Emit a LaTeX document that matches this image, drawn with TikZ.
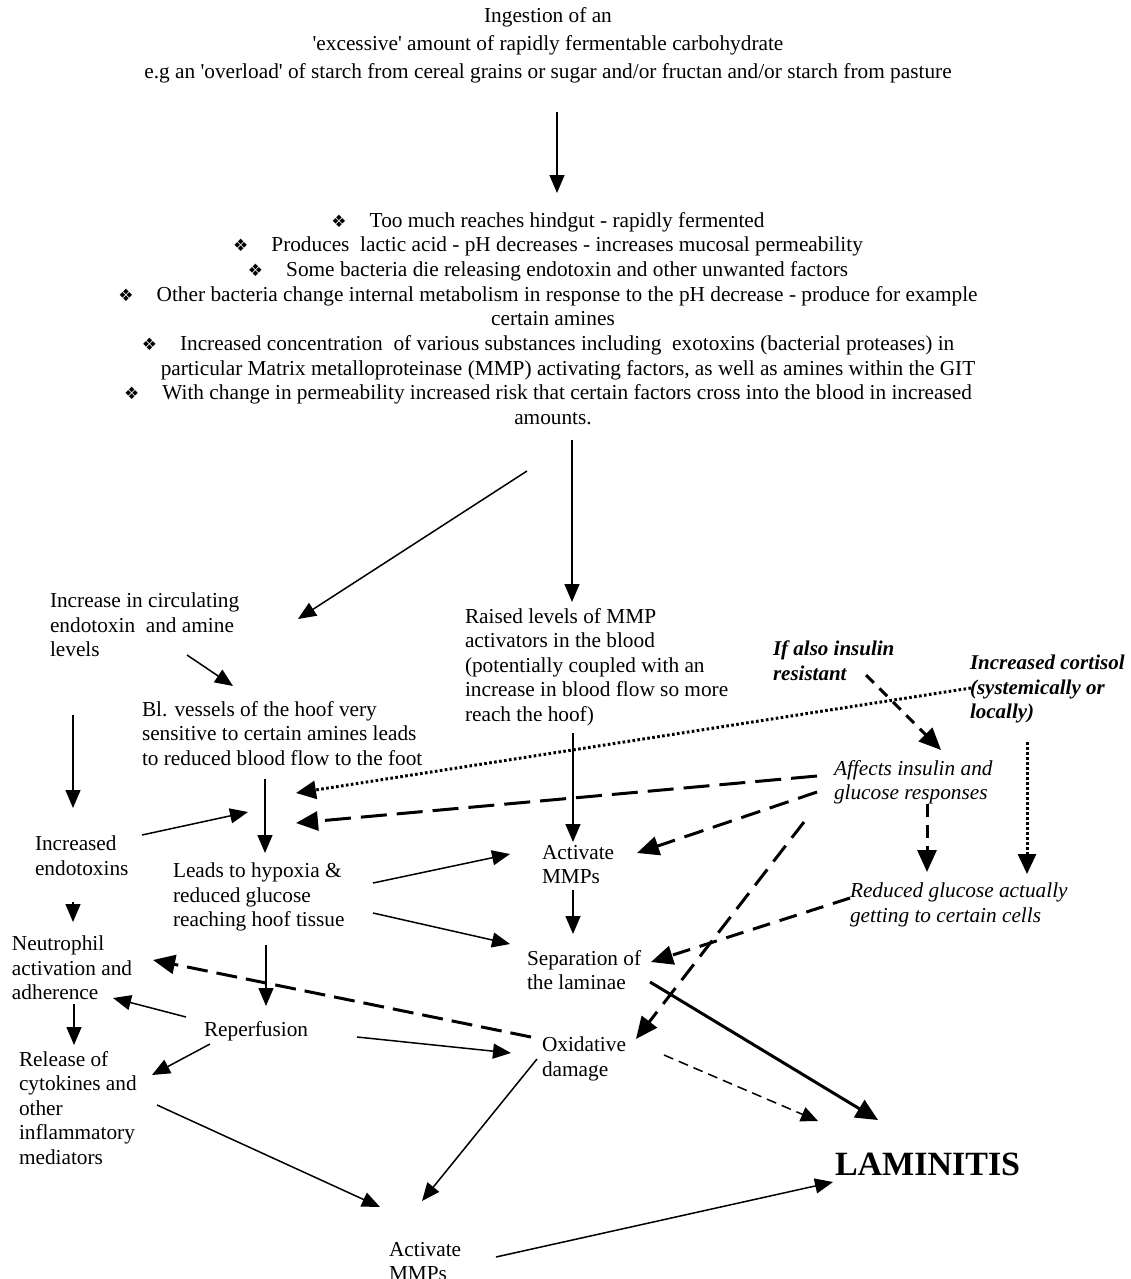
\documentclass[tikz,border=0pt]{standalone}
\usepackage{fontspec}
\setmainfont{Liberation Serif}[Ligatures=TeXOff]
\newfontfamily\dej{DejaVu Sans}
\newcommand{\bul}{{\dej\fontsize{17}{17}\selectfont ❖}\hspace{23pt}}
\usetikzlibrary{arrows.meta,calc}
\begin{document}
\begin{tikzpicture}[x=1pt,y=-1pt,
  txt/.style={inner sep=0pt,outer sep=0pt,align=left,anchor=north west,font=\fontsize{21.3}{24.6}\selectfont},
  itx/.style={txt,font=\fontsize{21.3}{24.6}\selectfont\itshape},
  bitx/.style={txt,font=\fontsize{21}{24.6}\selectfont\bfseries\itshape},
  ctr/.style={inner sep=0pt,outer sep=0pt,align=center,anchor=north},
  arr/.style={line width=1.5pt,-{Triangle[length=18pt,width=15pt]}},
  thk/.style={line width=3pt,-{Triangle[length=22pt,width=20pt]}},
  dsh/.style={line width=3pt,dash pattern=on 20pt off 10pt,-{Triangle[length=22pt,width=19pt]}},
  sdsh/.style={line width=3pt,dash pattern=on 11pt off 8pt,-{Triangle[length=22pt,width=19pt]}},
  tdsh/.style={line width=1.5pt,dash pattern=on 10pt off 6pt,-{Triangle[length=17pt,width=15pt]}},
  dott/.style={line width=3pt,dash pattern=on 2.6pt off 2.4pt,-{Triangle[length=20pt,width=18pt]}}
]
\fill[white] (0,0) rectangle (1131,1279);
\useasboundingbox (0,0) rectangle (1131,1279);

% ---- top text
\node[ctr,font=\fontsize{21.3}{28}\selectfont] (top) at (548,8)
 {Ingestion of an\\
  'excessive' amount of rapidly fermentable carbohydrate\\
  e.g an 'overload' of starch from cereal grains or sugar and/or fructan and/or starch from pasture};

% ---- bullet block
\node[ctr,font=\fontsize{21.3}{24.7}\selectfont] (gut) at (548,212)
 {\bul Too much reaches hindgut - rapidly fermented\\
  \bul Produces\ \ lactic acid - pH decreases - increases mucosal permeability\\
  \bul Some bacteria die releasing endotoxin and other unwanted factors\\
  \bul Other bacteria change internal metabolism in response to the pH decrease - produce for example\\
  \hspace*{10pt}certain amines\\
  \bul Increased concentration\ \ of various substances including\ \ exotoxins (bacterial proteases) in\\
  \hspace*{40pt}particular Matrix metalloproteinase (MMP) activating factors, as well as amines within the GIT\\
  \bul With change in permeability increased risk that certain factors cross into the blood in increased\\
  \hspace*{10pt}amounts.};

% ---- nodes
\node[txt] (circ) at (50,593) {Increase in circulating\\endotoxin\ \ and amine\\levels};
\node[txt] (blv) at (142,701) {Bl. vessels of the hoof very\\sensitive to certain amines leads\\to reduced blood flow to the foot};
\node[txt] (raised) at (465,608) {Raised levels of MMP\\activators in the blood\\(potentially coupled with an\\increase in blood flow so more\\reach the hoof)};
\node[bitx] (ins) at (773,641) {If also insulin\\resistant};
\node[bitx] (cort) at (970,655) {Increased cortisol\\(systemically or\\locally)};
\node[itx] (aff) at (834,760) {Affects insulin and\\glucose responses};
\node[txt] (incend) at (35,836) {Increased\\endotoxins};
\node[txt] (hyp) at (173,863) {Leads to hypoxia \&\\reduced glucose\\reaching hoof tissue};
\node[txt] (amm) at (542,845) {Activate\\MMPs};
\node[itx] (red) at (850,883) {Reduced glucose actually\\getting to certain cells};
\node[txt] (neu) at (12,936) {Neutrophil\\activation and\\adherence};
\node[txt] (sep) at (527,950) {Separation of\\the laminae};
\node[txt] (rep) at (204,1021) {Reperfusion};
\node[txt] (ox) at (542,1037) {Oxidative\\damage};
\node[txt] (rel) at (19,1051) {Release of\\cytokines and\\other\\inflammatory\\mediators};
\node[txt] (mmp2) at (389,1242) {Activate\\MMPs};
\node[txt,font=\fontsize{34}{40}\selectfont\bfseries] (lam) at (835,1153) {LAMINITIS};

% junction on the arrow from blv to hyp
\coordinate (vline) at ([shift={(92,-50)}]hyp.north west);

% ---- connectors
\draw[arr] ([shift={(9,104)}]top.north) -- ([shift={(9,-19)}]gut.north);
\draw[arr] ([shift={(-21,259)}]gut.north) -- ([shift={(248,26)}]circ.north west);
\draw[arr] ([shift={(24,228)}]gut.north) -- ([shift={(107,-6)}]raised.north west);
\draw[arr] ([shift={(137,62)}]circ.north west) -- ([shift={(91,-15)}]blv.north west);
\draw[arr] ([shift={(23,122)}]circ.north west) -- ([shift={(38,-28)}]incend.north west);
\draw[arr] ([shift={(123,78)}]blv.north west) -- ([shift={(92,-10)}]hyp.north west);
\draw[arr] ([shift={(107,-1)}]incend.north west) -- ([shift={(-17,-1)}]vline);
\draw[arr] ([shift={(38,66)}]incend.north west) -- ([shift={(61,-14)}]neu.north west);
\draw[arr] ([shift={(62,68)}]neu.north west) -- ([shift={(55,-6)}]rel.north west);
\draw[arr] ([shift={(200,20)}]hyp.north west) -- ([shift={(-32,9)}]amm.north west);
\draw[arr] ([shift={(200,50)}]hyp.north west) -- ([shift={(-17,-6)}]sep.north west);
\draw[arr] ([shift={(93,82)}]hyp.north west) -- ([shift={(62,-15)}]rep.north west);
\draw[arr] ([shift={(108,125)}]raised.north west) -- ([shift={(31,-3)}]amm.north west);
\draw[arr] ([shift={(31,45)}]amm.north west) -- ([shift={(46,-16)}]sep.north west);
\draw[arr] ([shift={(-18,-4)}]rep.north west) -- ([shift={(101,62)}]neu.north west);
\draw[arr] ([shift={(6,23)}]rep.north west) -- ([shift={(133,24)}]rel.north west);
\draw[arr] ([shift={(153,16)}]rep.north west) -- ([shift={(-31,16)}]ox.north west);
\draw[dsh,dash pattern=on 21pt off 9pt] ([shift={(-11,0)}]ox.north west) -- ([shift={(141,24)}]neu.north west);
\draw[arr] ([shift={(-5,22)}]ox.north west) -- ([shift={(33,-41)}]mmp2.north west);
\draw[arr] ([shift={(138,54)}]rel.north west) -- ([shift={(-9,-35)}]mmp2.north west);
\draw[arr] ([shift={(107,15)}]mmp2.north west) -- ([shift={(-2,29)}]lam.north west);
\draw[thk] ([shift={(123,32)}]sep.north west) -- ([shift={(43,-33)}]lam.north west);
\draw[tdsh] ([shift={(122,18)}]ox.north west) -- ([shift={(-17,-32)}]lam.north west);
\draw[sdsh] ([shift={(93,34)}]ins.north west) -- ([shift={(107,-10)}]aff.north west);
\draw[dott] ([shift={(1,33)}]cort.north west) -- ([shift={(31,-20)}]vline);
\draw[dott] ([shift={(57,87)}]cort.north west) -- ([shift={(177,-9)}]red.north west);
\draw[dsh,dash pattern=on 26pt off 10pt] ([shift={(-17,16)}]aff.north west) -- ([shift={(31,10)}]vline);
\draw[dsh] ([shift={(-17,32)}]aff.north west) -- ([shift={(95,8)}]amm.north west);
\draw[dsh] ([shift={(-30,62)}]aff.north west) -- ([shift={(94,2)}]ox.north west);
\draw[sdsh,dash pattern=on 13pt off 8pt] ([shift={(93,44)}]aff.north west) -- ([shift={(77,-11)}]red.north west);
\draw[dsh,dash pattern=on 18pt off 10pt] ([shift={(0,15)}]red.north west) -- ([shift={(124,12)}]sep.north west);
\end{tikzpicture}
\end{document}
